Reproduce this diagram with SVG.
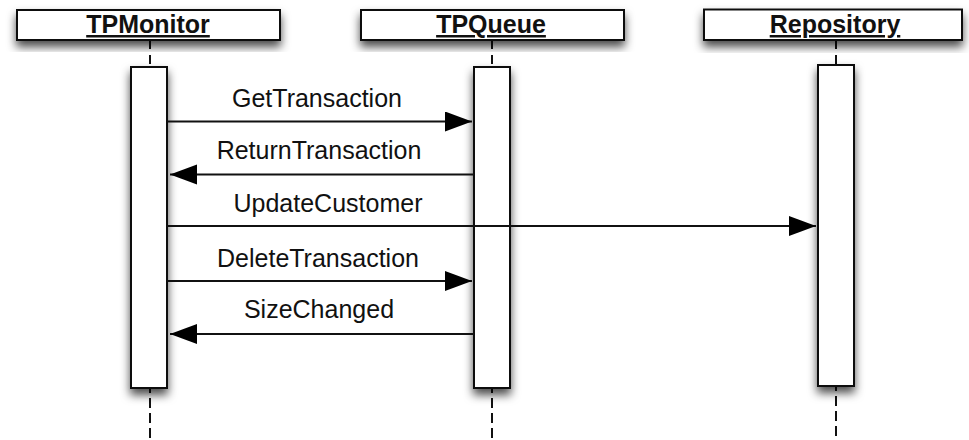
<svg xmlns="http://www.w3.org/2000/svg" width="969" height="440" viewBox="0 0 969 440">
  <style>
    .box { fill: #ffffff; stroke: #111111; stroke-width: 2; }
    .shadowed { filter: url(#shadow); }
    .title { font-family: "Liberation Sans", Arial, sans-serif; font-size: 25px; font-weight: bold; fill: #111111; text-anchor: middle; text-decoration: underline; }
    .lifeline { stroke: #111111; stroke-width: 2; fill: none; }
    .msg { stroke: #111111; stroke-width: 2; fill: none; marker-end: url(#head); }
    .label { font-family: "Liberation Sans", Arial, sans-serif; font-size: 25px; fill: #111111; text-anchor: middle; }
  </style>
  <defs>
    <filter id="shadow" x="-40%" y="-40%" width="180%" height="180%">
      <feDropShadow dx="0" dy="6" stdDeviation="5" flood-color="#000000" flood-opacity="0.7"/>
    </filter>
    <marker id="head" markerUnits="userSpaceOnUse" markerWidth="28" markerHeight="22" refX="27" refY="10" orient="auto">
      <path d="M0,0 L27,10 L0,20 Z" fill="#000000"/>
    </marker>
  </defs>

  <rect width="969" height="440" fill="#ffffff"/>

  <!-- TPMonitor participant -->
  <g id="tpmonitor">
    <line class="lifeline" x1="150" y1="40" x2="150" y2="67" stroke-dasharray="9,6"/>
    <line class="lifeline" x1="150" y1="388" x2="150" y2="440" stroke-dasharray="10,5" stroke-dashoffset="5"/>
    <rect class="box shadowed" x="17" y="10" width="263" height="30"/>
    <text class="title" x="148" y="33">TPMonitor</text>
    <rect class="box shadowed" x="131" y="67" width="36" height="321"/>
  </g>

  <!-- TPQueue participant -->
  <g id="tpqueue">
    <line class="lifeline" x1="492" y1="40" x2="492" y2="67" stroke-dasharray="9,6"/>
    <line class="lifeline" x1="492" y1="388" x2="492" y2="440" stroke-dasharray="10,5" stroke-dashoffset="5"/>
    <rect class="box shadowed" x="361" y="10" width="263" height="30"/>
    <text class="title" x="491" y="33">TPQueue</text>
    <rect class="box shadowed" x="474" y="67" width="36" height="321"/>
  </g>

  <!-- Repository participant -->
  <g id="repository">
    <line class="lifeline" x1="836" y1="40" x2="836" y2="65" stroke-dasharray="9,6"/>
    <line class="lifeline" x1="836" y1="386" x2="836" y2="440" stroke-dasharray="10,5" stroke-dashoffset="5"/>
    <rect class="box shadowed" x="704" y="9.5" width="258" height="30.5"/>
    <text class="title" x="835" y="33">Repository</text>
    <rect class="box shadowed" x="818" y="65" width="36" height="321"/>
  </g>

  <!-- Messages -->
  <g id="messages">
    <line class="msg" x1="167" y1="121.5" x2="472" y2="121.5"/>
    <text class="label" x="317" y="107">GetTransaction</text>

    <line class="msg" x1="474" y1="174.5" x2="170" y2="174.5"/>
    <text class="label" x="319" y="159">ReturnTransaction</text>

    <line class="msg" x1="167" y1="226" x2="816" y2="226"/>
    <text class="label" x="328" y="212">UpdateCustomer</text>

    <line class="msg" x1="167" y1="281" x2="472" y2="281"/>
    <text class="label" x="318" y="267">DeleteTransaction</text>

    <line class="msg" x1="474" y1="334" x2="170" y2="334"/>
    <text class="label" x="319" y="318">SizeChanged</text>
  </g>
</svg>
